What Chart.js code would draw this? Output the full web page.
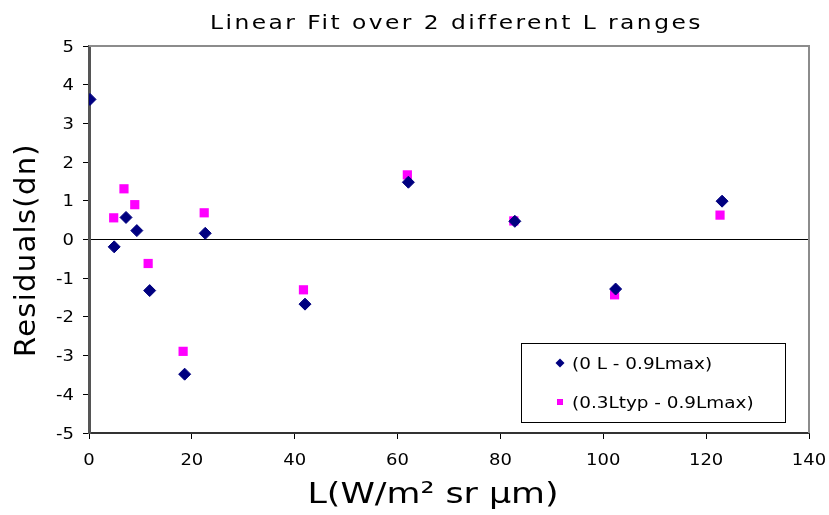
<!DOCTYPE html>
<html>
<head>
<meta charset="utf-8">
<script src="https://cdn.jsdelivr.net/npm/chart.js@4"></script>
<style>
  html, body { margin: 0; padding: 0; background: #fff; }
  #wrap { width: 829px; height: 515px; }
</style>
</head>
<body>
<div id="wrap"><canvas id="chart"></canvas></div>
<script>
const fullRangeL = [0.2, 4.9, 7.2, 9.3, 11.8, 18.6, 22.6, 42.0, 62.1, 82.8, 102.4, 123.1];
const fullRangeRes = [3.62, -0.19, 0.57, 0.23, -1.32, -3.48, 0.16, -1.67, 1.48, 0.47, -1.28, 0.99];
const typRangeL = [4.8, 6.8, 8.9, 11.5, 18.3, 22.4, 41.7, 61.9, 82.6, 102.2, 122.7];
const typRangeRes = [0.56, 1.31, 0.90, -0.62, -2.89, 0.69, -1.30, 1.67, 0.48, -1.43, 0.63];
const seriesNames = ["(0 L - 0.9Lmax)", "(0.3Ltyp - 0.9Lmax)"];
const xTicks = [0, 20, 40, 60, 80, 100, 120, 140];
const yTicks = [5, 4, 3, 2, 1, 0, -1, -2, -3, -4, -5];
const chartTitle = "Linear Fit over 2 different L ranges";
const xTitle = "L(W/m² sr μm)";
const yTitle = "Residuals(dn)";

const font = "'DejaVu Sans', Verdana, sans-serif";

// the original picture is stretched sideways, so text is drawn wider (sx)
function wideText(ctx, text, x, y, align, sx, spacing) {
  ctx.save();
  ctx.letterSpacing = (spacing || 0) + "px";
  ctx.textAlign = "left";
  const w = ctx.measureText(text).width - (spacing || 0);
  let left = x;
  if (align === "center") left = x - w * sx / 2;
  if (align === "right") left = x - w * sx;
  ctx.translate(left, y);
  ctx.scale(sx, 1);
  ctx.fillText(text, 0, 0);
  ctx.restore();
}

// frame, titles, tick labels and legend box, drawn after the datasets
const framePlugin = {
  id: "frame",
  afterDraw(chart) {
    const { ctx, chartArea: a } = chart;
    const xs = chart.scales.x, ys = chart.scales.y;
    ctx.save();
    ctx.strokeStyle = "#8c8c8c";
    ctx.lineWidth = 2;
    ctx.beginPath();
    ctx.moveTo(a.left, a.top);
    ctx.lineTo(a.right, a.top);
    ctx.lineTo(a.right, a.bottom);
    ctx.stroke();

    ctx.fillStyle = "#000";
    ctx.textBaseline = "alphabetic";

    ctx.font = "15px " + font;
    xTicks.forEach(v => wideText(ctx, String(v), xs.getPixelForValue(v), 465, "center", 1.2));
    yTicks.forEach(v => wideText(ctx, String(v), 74, ys.getPixelForValue(v) + 5.5, "right", 1.2));

    ctx.font = "19px " + font;
    wideText(ctx, chartTitle, 210, 29, "left", 1.23, 2.0);

    ctx.font = "29px " + font;
    wideText(ctx, xTitle, 433, 503, "center", 1.2);

    ctx.save();
    ctx.translate(35, 250);
    ctx.rotate(-Math.PI / 2);
    ctx.letterSpacing = "1.3px";
    ctx.textAlign = "center";
    ctx.fillText(yTitle, 0, 0);
    ctx.restore();

    // legend
    const bx = 521, by = 343, bw = 264, bh = 79;
    ctx.strokeStyle = "#000";
    ctx.lineWidth = 1;
    ctx.fillStyle = "#fff";
    ctx.fillRect(bx, by, bw, bh);
    ctx.strokeRect(bx + 0.5, by + 0.5, bw, bh);
    const ds = chart.data.datasets;
    const rows = [363, 402];
    ctx.font = "16px " + font;
    ds.forEach((d, i) => {
      Chart.helpers.drawPoint(ctx, {
        pointStyle: d.pointStyle, radius: i === 0 ? 4.5 : 4.2, rotation: 0,
        borderWidth: 0
      }, 560, rows[i]);
      ctx.fillStyle = d.backgroundColor;
      ctx.fill();
      ctx.fillStyle = "#000";
      wideText(ctx, seriesNames[i], 572, rows[i] + 6, "left", 1.15);
    });
    ctx.restore();
  }
};

new Chart(document.getElementById("chart"), {
  type: "scatter",
  data: {
    datasets: [
      {
        label: seriesNames[0],
        data: fullRangeL.map((x, i) => ({ x: x, y: fullRangeRes[i] })),
        pointStyle: "rectRot",
        pointRadius: 6,
        pointHoverRadius: 6,
        backgroundColor: "#000080",
        borderColor: "#000080",
        borderWidth: 1
      },
      {
        label: seriesNames[1],
        data: typRangeL.map((x, i) => ({ x: x, y: typRangeRes[i] })),
        pointStyle: "rect",
        pointRadius: 6.5,
        pointHoverRadius: 6.5,
        backgroundColor: "#ff00ff",
        borderColor: "#ff00ff",
        borderWidth: 0
      }
    ]
  },
  options: {
    responsive: true,
    maintainAspectRatio: false,
    animation: false,
    layout: { padding: { left: 0, right: 20, top: 46, bottom: 0 } },
    plugins: {
      legend: { display: false },
      tooltip: { enabled: false },
      title: { display: false }
    },
    scales: {
      x: {
        type: "linear",
        min: 0, max: 140,
        afterBuildTicks: s => { s.ticks = xTicks.map(v => ({ value: v })); },
        afterFit: s => { s.height = 82; },
        grid: { display: true, drawOnChartArea: false, color: "#000", tickLength: 6, tickWidth: 1 },
        border: { display: true, color: "#333", width: 2 },
        ticks: { display: false }
      },
      y: {
        type: "linear",
        min: -5, max: 5,
        afterBuildTicks: s => { s.ticks = yTicks.map(v => ({ value: v })); },
        afterFit: s => { s.width = 89; },
        grid: {
          drawOnChartArea: true,
          color: c => (c.tick && c.tick.value === 0 ? "#000" : "rgba(0,0,0,0)"),
          tickColor: "#000",
          tickLength: 6,
          lineWidth: 1
        },
        border: { display: true, color: "#555", width: 3 },
        ticks: { display: false }
      }
    }
  },
  plugins: [framePlugin]
});
</script>
</body>
</html>
